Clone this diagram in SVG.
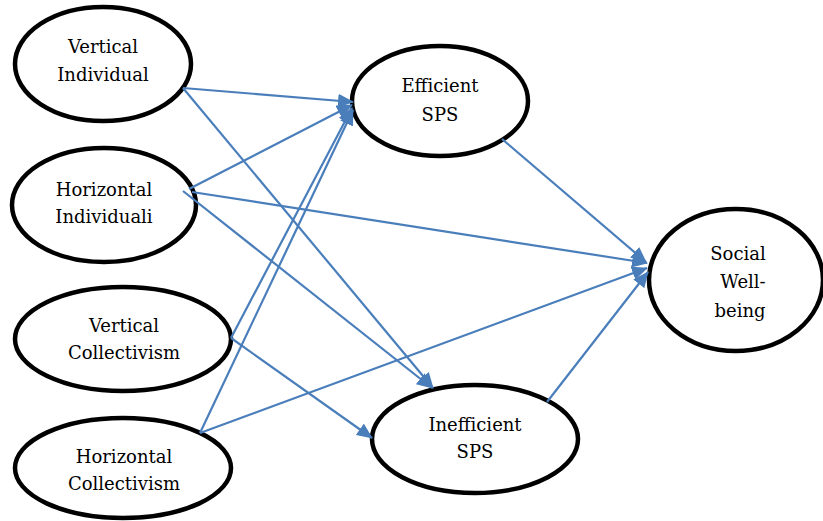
<svg xmlns="http://www.w3.org/2000/svg" width="823" height="521" viewBox="0 0 823 521">
<style>
.n ellipse{fill:#fff;stroke:#000;stroke-width:4.5}
.n text{font-family:"DejaVu Serif",serif;font-size:18px;fill:#000;text-anchor:middle}
.c line{stroke:#4a7ebb;stroke-width:2.2;marker-end:url(#ah)}
</style>
<defs>
<marker id="ah" markerUnits="userSpaceOnUse" markerWidth="16" markerHeight="14" refX="15" refY="7" orient="auto">
<path d="M0,0 L16,7 L0,14 Z" fill="#4a7ebb"/>
</marker>
</defs>
<rect width="823" height="521" fill="#fff"/>
<g id="n-vi" class="n"><ellipse cx="103" cy="64" rx="88" ry="57"/><text x="103" y="53">Vertical</text><text x="103" y="81">Individual</text></g>
<g id="n-hi" class="n"><ellipse cx="104" cy="205" rx="92" ry="57"/><text x="104" y="196">Horizontal</text><text x="104" y="223">Individuali</text></g>
<g id="n-vc" class="n"><ellipse cx="123" cy="339" rx="108" ry="52"/><text x="124" y="332">Vertical</text><text x="124" y="359">Collectivism</text></g>
<g id="n-hc" class="n"><ellipse cx="123" cy="468" rx="108" ry="50"/><text x="124" y="463">Horizontal</text><text x="124" y="490">Collectivism</text></g>
<g id="n-eff" class="n"><ellipse cx="440" cy="101" rx="88" ry="55"/><text x="440" y="92">Efficient</text><text x="440" y="121">SPS</text></g>
<g id="n-ineff" class="n"><ellipse cx="475" cy="439" rx="103" ry="54"/><text x="475" y="431">Inefficient</text><text x="475" y="458">SPS</text></g>
<g id="n-sw" class="n"><ellipse cx="736" cy="280" rx="87" ry="71"/><text x="738" y="260">Social</text><text x="743" y="288">Well-</text><text x="740" y="317">being</text></g>
<g id="connectors" class="c">
<line x1="183" y1="88" x2="353" y2="102"/>
<line x1="183" y1="88" x2="433" y2="388"/>
<line x1="189" y1="189" x2="352" y2="105"/>
<line x1="192" y1="192" x2="647" y2="263"/>
<line x1="183" y1="191" x2="432" y2="388"/>
<line x1="231" y1="338" x2="352" y2="108"/>
<line x1="231" y1="338" x2="372" y2="438"/>
<line x1="200" y1="433" x2="353" y2="110"/>
<line x1="200" y1="433" x2="647" y2="268"/>
<line x1="502" y1="139" x2="646" y2="262"/>
<line x1="547" y1="402" x2="648" y2="272"/>
</g>
</svg>
